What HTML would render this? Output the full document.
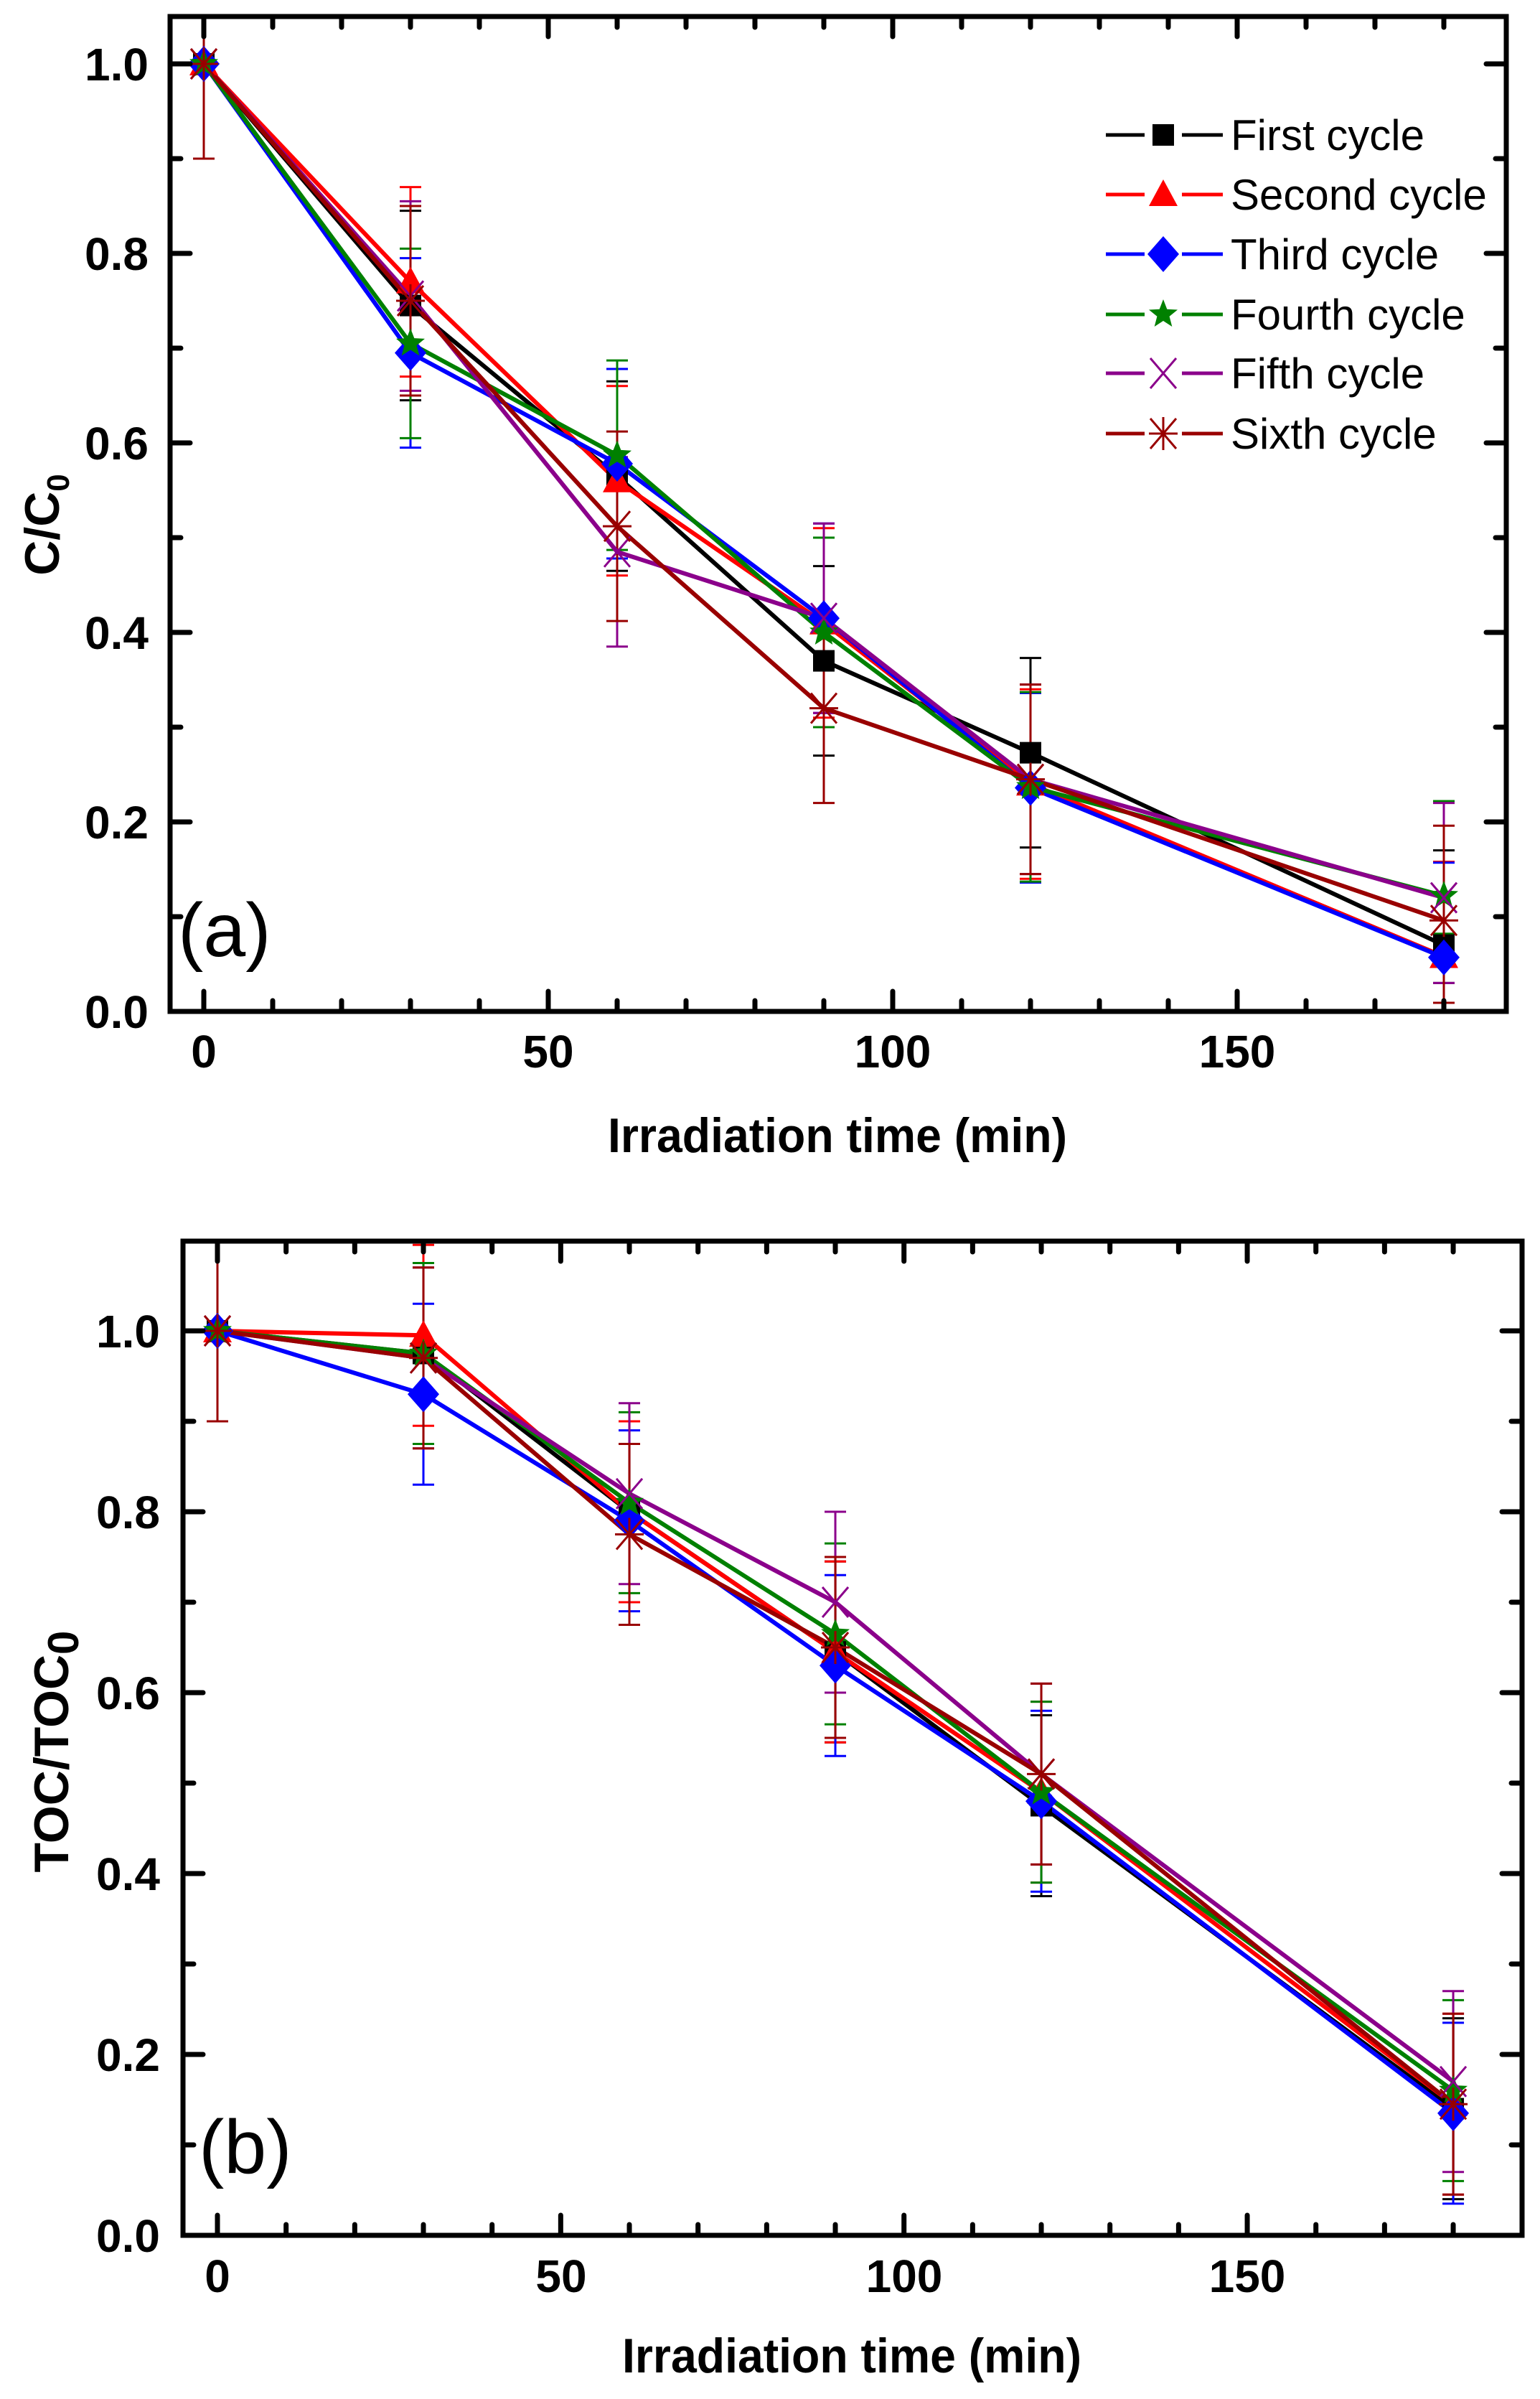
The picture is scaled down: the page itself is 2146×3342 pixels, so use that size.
<!DOCTYPE html>
<html><head><meta charset="utf-8"><style>
html,body{margin:0;padding:0;background:#fff}
svg{display:block}
text{font-family:"Liberation Sans",Arial,sans-serif}
.tk{font-weight:bold;font-size:64px}
.tt{font-weight:bold;font-size:68px}
.lg{font-size:60px}
</style></head><body>
<svg id="s" xmlns="http://www.w3.org/2000/svg" width="2146" height="3342" viewBox="0 0 2146 3342">
<rect width="2146" height="3342" fill="#fff"/>
<g id="plots"></g>
<g class="tk" text-anchor="end">
<text x="207" y="1432">0.0</text><text x="207" y="1168">0.2</text><text x="207" y="904">0.4</text>
<text x="207" y="640">0.6</text><text x="207" y="376">0.8</text><text x="207" y="112">1.0</text>
</g>
<g class="tk" text-anchor="middle">
<text x="284" y="1487">0</text><text x="764" y="1487">50</text><text x="1244" y="1487">100</text><text x="1724" y="1487">150</text>
</g>
<text class="tt" x="1167" y="1605" text-anchor="middle" textLength="640" lengthAdjust="spacingAndGlyphs">Irradiation time (min)</text>
<text class="tt" transform="translate(82,731) rotate(-90)" text-anchor="middle">C/C<tspan font-size="44" dy="14">0</tspan></text>
<text x="248" y="1332" font-size="106">(a)</text>
<g class="lg">
<text x="1715" y="209">First cycle</text><text x="1715" y="292">Second cycle</text><text x="1715" y="375">Third cycle</text>
<text x="1715" y="459">Fourth cycle</text><text x="1715" y="541">Fifth cycle</text><text x="1715" y="625">Sixth cycle</text>
</g>
<g class="tk" text-anchor="end">
<text x="223" y="3137">0.0</text><text x="223" y="2885">0.2</text><text x="223" y="2633">0.4</text>
<text x="223" y="2381">0.6</text><text x="223" y="2129">0.8</text><text x="223" y="1877">1.0</text>
</g>
<g class="tk" text-anchor="middle">
<text x="303" y="3193">0</text><text x="782" y="3193">50</text><text x="1260" y="3193">100</text><text x="1738" y="3193">150</text>
</g>
<text class="tt" x="1187" y="3305" text-anchor="middle" textLength="640" lengthAdjust="spacingAndGlyphs">Irradiation time (min)</text>
<text class="tt" transform="translate(95,2440) rotate(-90)" text-anchor="middle">TOC/TOC<tspan font-size="60" dy="14">0</tspan></text>
<text x="277" y="3027" font-size="106">(b)</text>
</svg>
<script>
var NS="http://www.w3.org/2000/svg",G=document.getElementById("plots");
function el(t,a){var e=document.createElementNS(NS,t);for(var k in a)e.setAttribute(k,a[k]);G.appendChild(e);return e;}
var cols=["#000000","#ff0000","#0000ff","#008000","#8b008b","#990000"];
var xs=[0,30,60,90,120,180];
function marker(i,x,y,c){
 if(i==0)el("rect",{x:x-15,y:y-15,width:30,height:30,fill:c});
 else if(i==1)el("polygon",{points:(x)+","+(y-21)+" "+(x+20)+","+(y+16)+" "+(x-20)+","+(y+16),fill:c});
 else if(i==2)el("polygon",{points:x+","+(y-25)+" "+(x+22)+","+y+" "+x+","+(y+25)+" "+(x-22)+","+y,fill:c});
 else if(i==3){var p=[];for(var k=0;k<10;k++){var r=k%2?9:21,a=-Math.PI/2+k*Math.PI/5;p.push((x+r*Math.cos(a)).toFixed(1)+","+(y+r*Math.sin(a)).toFixed(1));}el("polygon",{points:p.join(" "),fill:c});}
 else if(i==4){el("path",{d:"M"+(x-18)+" "+(y-21)+"L"+(x+18)+" "+(y+21)+"M"+(x+18)+" "+(y-21)+"L"+(x-18)+" "+(y+21),stroke:c,"stroke-width":3,fill:"none"});}
 else {el("path",{d:"M"+(x-18)+" "+(y-21)+"L"+(x+18)+" "+(y+21)+"M"+(x+18)+" "+(y-21)+"L"+(x-18)+" "+(y+21)+"M"+x+" "+(y-23)+"L"+x+" "+(y+23)+"M"+(x-20)+" "+y+"L"+(x+20)+" "+y,stroke:c,"stroke-width":3,fill:"none"});}
}
function panel(P,data){
 var X=function(v){return P.x0+v*P.kx},Y=function(v){return P.y0-v*P.ky};
 for(var i=0;i<6;i++){var c=cols[i];
  for(var j=0;j<6;j++){var x=X(xs[j]),v=data[i][j],e=(j==5&&P.small)?0.04+0.05*(i%3):0.1,
   t=Math.max(Y(v+0.1),P.top),b=Math.min(Y(v-e),P.bot-12);
   el("line",{x1:x,y1:t,x2:x,y2:b,stroke:c,"stroke-width":3});
   if(Y(v+0.1)>=P.top)el("line",{x1:x-15,y1:t,x2:x+15,y2:t,stroke:c,"stroke-width":3});
   el("line",{x1:x-15,y1:b,x2:x+15,y2:b,stroke:c,"stroke-width":3});}}
 for(var i=0;i<6;i++){var pts=[];for(var j=0;j<6;j++)pts.push(X(xs[j])+","+Y(data[i][j]));
  el("polyline",{points:pts.join(" "),fill:"none",stroke:cols[i],"stroke-width":6,"stroke-linejoin":"round"});}
 for(var i=0;i<6;i++)for(var j=0;j<6;j++)marker(i,X(xs[j]),Y(data[i][j]),cols[i]);
 var d="";
 for(var v=0;v<=190;v+=10){var x=X(v);if(x>P.right-4)break;var L=v%50==0?28:15;
  d+="M"+x+" "+P.bot+"v"+(-L)+"M"+x+" "+P.top+"v"+L;}
 for(var k=0;k<=P.ymax*10+0.001;k++){var y=Y(k/10);if(y<P.top+2)continue;var L=k%2==0?28:15;
  d+="M"+P.left+" "+y+"h"+L+"M"+P.right+" "+y+"h"+(-L);}
 el("path",{d:d,stroke:"#000","stroke-width":7,fill:"none","stroke-linecap":"round"});
 el("rect",{x:P.left,y:P.top,width:P.right-P.left,height:P.bot-P.top,fill:"none",stroke:"#000","stroke-width":7});
}
panel({left:237,right:2099,top:23,bot:1409,x0:284,kx:9.6,y0:1409,ky:1320,ymax:1.0,small:true},[
 [1,0.745,0.565,0.37,0.273,0.07],[1,0.77,0.56,0.41,0.24,0.058],[1,0.695,0.578,0.415,0.236,0.057],
 [1,0.705,0.587,0.40,0.237,0.122],[1,0.755,0.485,0.415,0.245,0.12],[1,0.75,0.512,0.32,0.245,0.096]]);
panel({left:255,right:2121,top:1729,bot:3114,x0:303,kx:9.567,y0:3114,ky:1260,ymax:1.1},[
 [1,0.975,0.80,0.645,0.475,0.14],[1,0.995,0.80,0.645,0.49,0.145],[1,0.93,0.79,0.63,0.48,0.135],
 [1,0.975,0.81,0.665,0.49,0.16],[1,0.97,0.82,0.70,0.51,0.17],[1,0.97,0.775,0.65,0.51,0.145]]);
var ly=[188,271,354,438,520,604];
for(var i=0;i<6;i++){el("line",{x1:1541,y1:ly[i],x2:1595,y2:ly[i],stroke:cols[i],"stroke-width":5});
 el("line",{x1:1647,y1:ly[i],x2:1704,y2:ly[i],stroke:cols[i],"stroke-width":5});marker(i,1621,ly[i],cols[i]);}
</script>
</body></html>
